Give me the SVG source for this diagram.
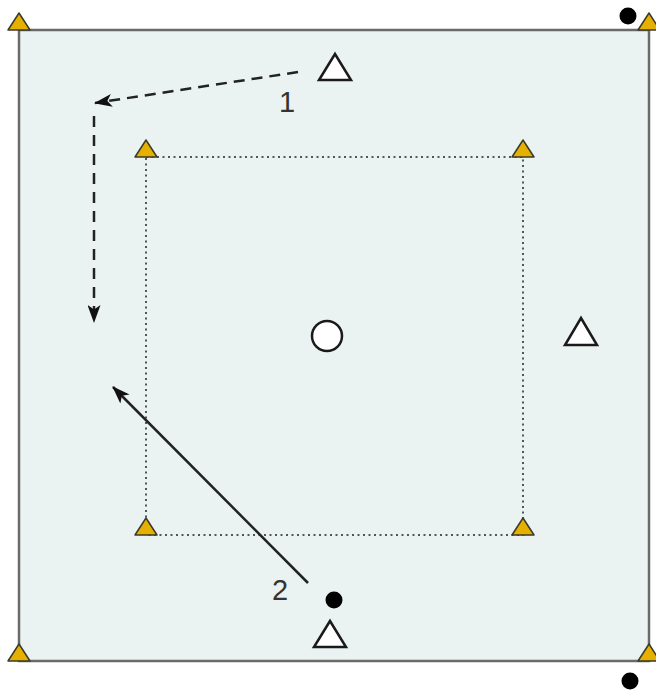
<svg xmlns="http://www.w3.org/2000/svg" width="656" height="691" viewBox="0 0 656 691">
<style>
.cone{fill:#e6b000;stroke:#3a3a2a;stroke-width:1.5;stroke-linejoin:round}
.player{fill:#ffffff;stroke:#1a1a1a;stroke-width:2.5;stroke-linejoin:miter}
.dot{fill:#000000}
.lbl{font-family:"Liberation Sans",Arial,sans-serif;font-size:29px;fill:#333333;text-anchor:middle}
.arrow{stroke:#222222;stroke-width:2.5;fill:none}
</style>
<defs>
<marker id="ah" viewBox="0 0 18 13" refX="17" refY="6.5" markerWidth="18" markerHeight="13" markerUnits="userSpaceOnUse" orient="auto">
<path d="M0,0 L18,6.5 L0,13 L4.5,6.5 z" fill="#111111"/>
</marker>
</defs>
<rect width="656" height="691" fill="#ffffff"/>
<g id="field">
<rect x="19" y="30" width="630" height="631" fill="#eaf3f1" stroke="#6a6a6a" stroke-width="2.5"/>
</g>
<g id="inner-square">
<rect x="146" y="157" width="377" height="378" fill="none" stroke="#555555" stroke-width="2" stroke-dasharray="2 3.5"/>
</g>
<g id="cones">
<path class="cone" d="M19,13 L30,30 L8,30 Z"/>
<path class="cone" d="M649,13 L660,30 L638,30 Z"/>
<path class="cone" d="M19,644 L30,661 L8,661 Z"/>
<path class="cone" d="M649,644 L660,661 L638,661 Z"/>
<path class="cone" d="M146,140 L157,157 L135,157 Z"/>
<path class="cone" d="M523,140 L534,157 L512,157 Z"/>
<path class="cone" d="M146,518 L157,535 L135,535 Z"/>
<path class="cone" d="M523,518 L534,535 L512,535 Z"/>
</g>
<g id="players">
<path class="player" d="M335,54 L351,80 L319,80 Z"/>
<path class="player" d="M581,318 L597,345 L565,345 Z"/>
<path class="player" d="M330,621 L346,647 L314,647 Z"/>
<circle class="player" cx="327" cy="336" r="15"/>
</g>
<g id="balls">
<circle class="dot" cx="628" cy="16" r="8.5"/>
<circle class="dot" cx="334" cy="600" r="8.5"/>
<circle class="dot" cx="630" cy="681" r="8.5"/>
</g>
<g id="connectors">
<line class="arrow" x1="298" y1="72" x2="95" y2="103" stroke-dasharray="11 7" marker-end="url(#ah)"/>
<line class="arrow" x1="94" y1="116" x2="94" y2="322" stroke-dasharray="11 8" marker-end="url(#ah)"/>
<line class="arrow" x1="308" y1="583" x2="113" y2="387" marker-end="url(#ah)"/>
</g>
<g id="labels">
<text class="lbl" x="287" y="112">1</text>
<text class="lbl" x="280" y="600">2</text>
</g>
</svg>
